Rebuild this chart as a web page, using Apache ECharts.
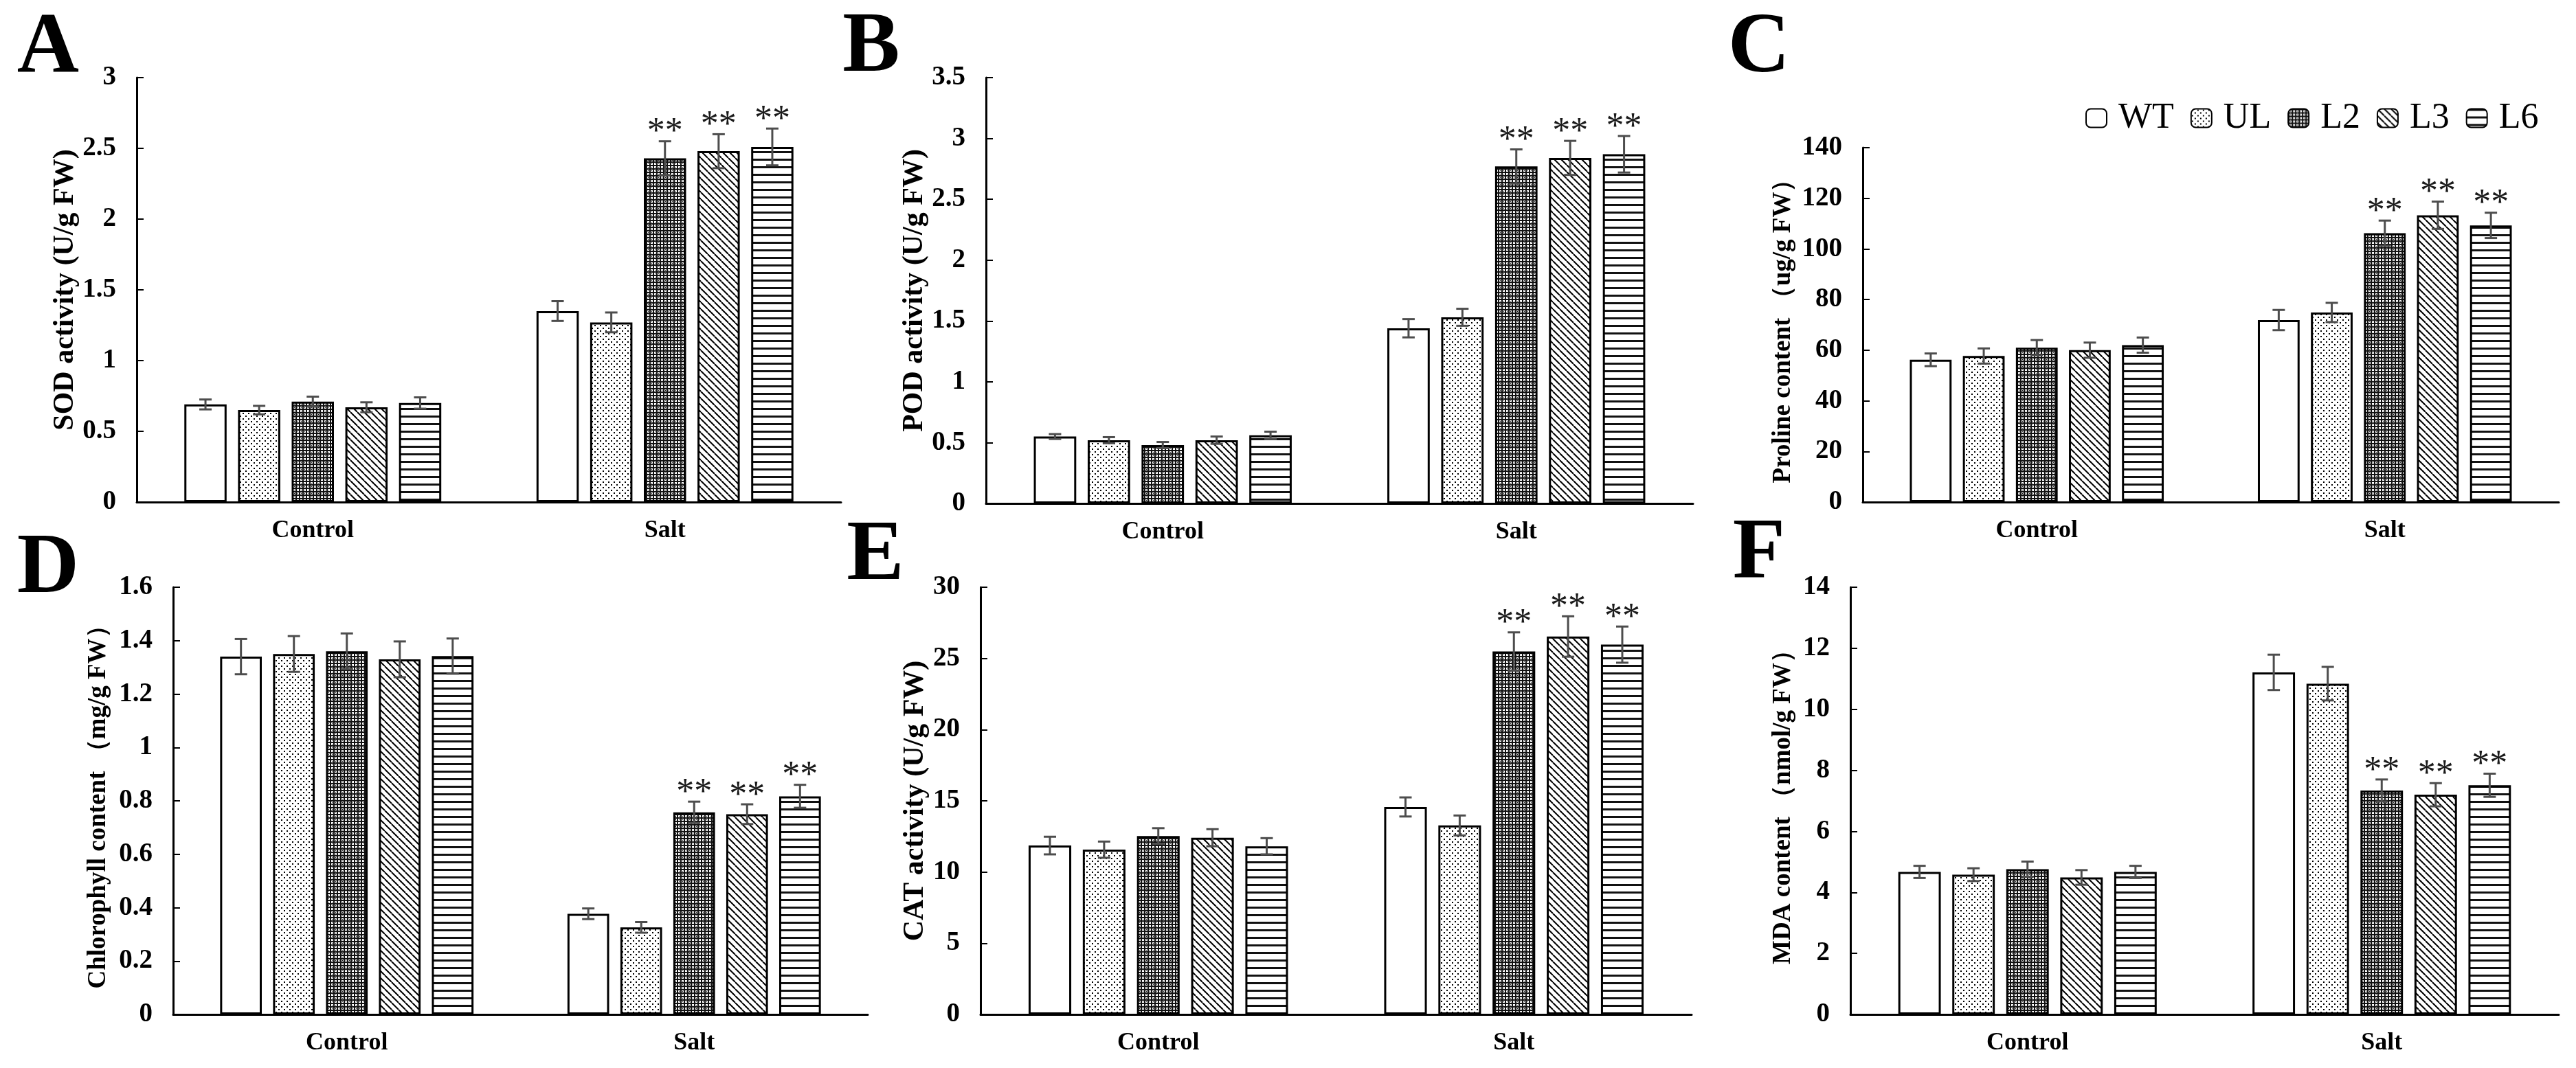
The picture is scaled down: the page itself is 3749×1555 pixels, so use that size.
<!DOCTYPE html>
<html>
<head>
<meta charset="utf-8">
<script src="https://cdn.jsdelivr.net/npm/echarts@6/dist/echarts.min.js"></script>
<style>
html, body { margin: 0; padding: 0; background: #fff; }
#main { width: 3749px; height: 1555px; }
</style>
</head>
<body>
<div id="main"></div>
<script>
// categories and lines
var categories = ['Control', 'Salt'];
var lines = ['WT', 'UL', 'L2', 'L3', 'L6'];
// significance marks, per line, per category
var sigMarks = [['', ''], ['', ''], ['', '**'], ['', '**'], ['', '**']];

// A SOD activity, per line [Control, Salt]
var sodMean = [[0.69, 1.35], [0.65, 1.27], [0.71, 2.43], [0.67, 2.48], [0.70, 2.51]];
var sodErr = [[0.035, 0.07], [0.03, 0.07], [0.035, 0.12], [0.035, 0.12], [0.04, 0.13]];
var sodTicks = [0, 0.5, 1, 1.5, 2, 2.5, 3];

// B POD activity
var podMean = [[0.55, 1.44], [0.52, 1.53], [0.48, 2.77], [0.52, 2.84], [0.56, 2.87]];
var podErr = [[0.02, 0.075], [0.025, 0.07], [0.025, 0.14], [0.03, 0.14], [0.03, 0.15]];
var podTicks = [0, 0.5, 1, 1.5, 2, 2.5, 3, 3.5];

// C proline content
var proMean = [[56.2, 71.9], [57.7, 74.9], [61.0, 106.2], [60.0, 113.3], [62.0, 109.3]];
var proErr = [[2.5, 4], [3, 3.8], [3, 5], [3, 5.4], [3, 5]];
var proTicks = [0, 20, 40, 60, 80, 100, 120, 140];

// D chlorophyll content
var chlMean = [[1.34, 0.377], [1.35, 0.326], [1.36, 0.757], [1.33, 0.75], [1.342, 0.817]];
var chlErr = [[0.066, 0.02], [0.067, 0.02], [0.067, 0.04], [0.067, 0.037], [0.066, 0.043]];
var chlTicks = [0, 0.2, 0.4, 0.6, 0.8, 1, 1.2, 1.4, 1.6];

// E CAT activity
var catMean = [[11.86, 14.57], [11.57, 13.27], [12.53, 25.49], [12.41, 26.54], [11.81, 25.97]];
var catErr = [[0.62, 0.67], [0.57, 0.7], [0.55, 1.34], [0.6, 1.42], [0.57, 1.27]];
var catTicks = [0, 5, 10, 15, 20, 25, 30];

// F MDA content
var mdaMean = [[4.67, 11.21], [4.58, 10.84], [4.76, 7.34], [4.49, 7.2], [4.67, 7.51]];
var mdaErr = [[0.2, 0.58], [0.21, 0.55], [0.25, 0.36], [0.24, 0.38], [0.2, 0.38]];
var mdaTicks = [0, 2, 4, 6, 8, 10, 12, 14];

var SERIF = 'Liberation Serif, Times New Roman, serif';
var BAR_W = 0.12;   // of category band
var BAR_GAP = 0.27; // of bar width

var panels = [
    {letter: 'A', lx: 70, ly: 72, title: 'SOD activity (U/g FW)', nameSize: 42, mean: sodMean, err: sodErr, ticks: sodTicks,
        grid: {left: 199, top: 113, width: 1025, height: 618}, nameGap: 82},
    {letter: 'B', lx: 1268, ly: 71, title: 'POD activity (U/g FW)', nameSize: 42, mean: podMean, err: podErr, ticks: podTicks,
        grid: {left: 1435, top: 113, width: 1029, height: 620}, nameGap: 80},
    {letter: 'C', lx: 2560, ly: 72, title: 'Proline content （ug/g FW）', nameSize: 37, mean: proMean, err: proErr, ticks: proTicks,
        grid: {left: 2711, top: 215, width: 1013, height: 516}, nameGap: 97},
    {letter: 'D', lx: 70, ly: 830, title: 'Chlorophyll content （mg/g FW）', nameSize: 37, mean: chlMean, err: chlErr, ticks: chlTicks,
        grid: {left: 252, top: 855, width: 1011, height: 622}, nameGap: 90},
    {letter: 'E', lx: 1274, ly: 811, title: 'CAT activity (U/g FW)', nameSize: 42, mean: catMean, err: catErr, ticks: catTicks,
        grid: {left: 1427, top: 855, width: 1035, height: 622}, nameGap: 74},
    {letter: 'F', lx: 2560, ly: 808, title: 'MDA content （nmol/g FW）', nameSize: 37, mean: mdaMean, err: mdaErr, ticks: mdaTicks,
        grid: {left: 2693, top: 855, width: 1031, height: 622}, nameGap: 79}
];

/**
 * fill patterns for the five lines
 */
function tile(w, h, draw) {
    var c = document.createElement('canvas');
    c.width = w;
    c.height = h;
    var ctx = c.getContext('2d');
    ctx.fillStyle = '#fff';
    ctx.fillRect(0, 0, w, h);
    draw(ctx);
    return {image: c, repeat: 'repeat'};
}
var fills = [
    '#ffffff',
    tile(8, 8, function (ctx) {
        ctx.fillStyle = '#000';
        ctx.fillRect(1, 1, 2, 2);
        ctx.fillRect(5, 5, 2, 2);
    }),
    tile(5, 5, function (ctx) {
        ctx.fillStyle = '#111';
        ctx.fillRect(0, 0, 5, 2);
        ctx.fillRect(0, 0, 2, 5);
        ctx.fillRect(3, 3, 1, 1);
    }),
    tile(10, 10, function (ctx) {
        ctx.strokeStyle = '#000';
        ctx.lineWidth = 2;
        for (var x0 = -10; x0 <= 10; x0 += 10) {
            ctx.beginPath();
            ctx.moveTo(x0, 0);
            ctx.lineTo(x0 + 10, 10);
            ctx.stroke();
        }
    }),
    tile(4, 11, function (ctx) {
        ctx.fillStyle = '#111';
        ctx.fillRect(0, 0, 4, 3);
    })
];

var grids = [], xAxes = [], yAxes = [], series = [], graphics = [];

panels.forEach(function (p, k) {
    grids.push(p.grid);
    xAxes.push({
        type: 'category', gridIndex: k, data: categories,
        axisLine: {lineStyle: {color: '#000', width: 3}},
        axisTick: {inside: true, length: 10, lineStyle: {color: '#000', width: 2}},
        axisLabel: {fontFamily: SERIF, fontWeight: 'bold', fontSize: 36, color: '#000', margin: 24},
        splitLine: {show: false}
    });
    var step = p.ticks[1] - p.ticks[0];
    yAxes.push({
        type: 'value', gridIndex: k,
        min: p.ticks[0], max: p.ticks[p.ticks.length - 1], interval: step,
        name: p.title, nameLocation: 'middle', nameGap: p.nameGap,
        nameTextStyle: {fontFamily: SERIF, fontWeight: 'bold', fontSize: p.nameSize, color: '#000'},
        axisLine: {show: true, lineStyle: {color: '#000', width: 3}},
        axisTick: {show: true, inside: true, length: 10, lineStyle: {color: '#000', width: 2}},
        axisLabel: {fontFamily: SERIF, fontWeight: 'bold', fontSize: 39, color: '#000', margin: 30},
        splitLine: {show: false}
    });
    graphics.push({
        type: 'text', x: p.lx, y: p.ly,
        style: {text: p.letter, fontFamily: SERIF, fontWeight: 'bold', fontSize: 125, fill: '#000',
            align: 'center', verticalAlign: 'middle'}
    });

    lines.forEach(function (name, i) {
        series.push({
            type: 'bar', name: name, xAxisIndex: k, yAxisIndex: k,
            data: p.mean[i],
            barWidth: (BAR_W * 100) + '%', barGap: (BAR_GAP * 100) + '%',
            itemStyle: {color: fills[i], borderColor: '#000', borderWidth: 3},
            emphasis: {disabled: true}
        });
    });
    // error bars and ** marks
    lines.forEach(function (name, i) {
        series.push({
            type: 'custom', name: 'err-' + name, xAxisIndex: k, yAxisIndex: k, z: 5,
            data: categories.map(function (c, j) { return [j, p.mean[i][j], p.err[i][j]]; }),
            encode: {x: 0, y: 1},
            renderItem: function (params, api) {
                var ci = api.value(0), v = api.value(1), e = api.value(2);
                var band = api.size([1, 0])[0];
                var bw = band * BAR_W;
                var cx = api.coord([ci, v])[0] + (i - 2) * bw * (1 + BAR_GAP);
                var yt = api.coord([ci, v + e])[1];
                var yb = api.coord([ci, v - e])[1];
                var st = {stroke: '#4d4d4d', lineWidth: 3};
                var kids = [
                    {type: 'line', shape: {x1: cx, y1: yt, x2: cx, y2: yb}, style: st},
                    {type: 'line', shape: {x1: cx - 9, y1: yt, x2: cx + 9, y2: yt}, style: st},
                    {type: 'line', shape: {x1: cx - 9, y1: yb, x2: cx + 9, y2: yb}, style: st}
                ];
                var mark = sigMarks[i][params.dataIndex];
                if (mark) {
                    kids.push({type: 'text', x: cx, y: yt - 12,
                        style: {text: mark, fontFamily: SERIF, fontSize: 52, fill: '#1a1a1a',
                            align: 'center', verticalAlign: 'middle'}});
                }
                return {type: 'group', children: kids};
            }
        });
    });
});

var myChart = echarts.init(document.getElementById('main'));
var option = {
    backgroundColor: '#fff',
    animation: false,
    grid: grids,
    xAxis: xAxes,
    yAxis: yAxes,
    legend: {
        data: lines, left: 3030, top: 141,
        itemWidth: 30, itemHeight: 27, itemGap: 24,
        selectedMode: false,
        itemStyle: {borderWidth: 2},
        textStyle: {fontFamily: SERIF, fontSize: 52, color: '#000', padding: [0, 0, 0, 12]}
    },
    graphic: graphics,
    series: series
};
myChart.setOption(option);
</script>
</body>
</html>
